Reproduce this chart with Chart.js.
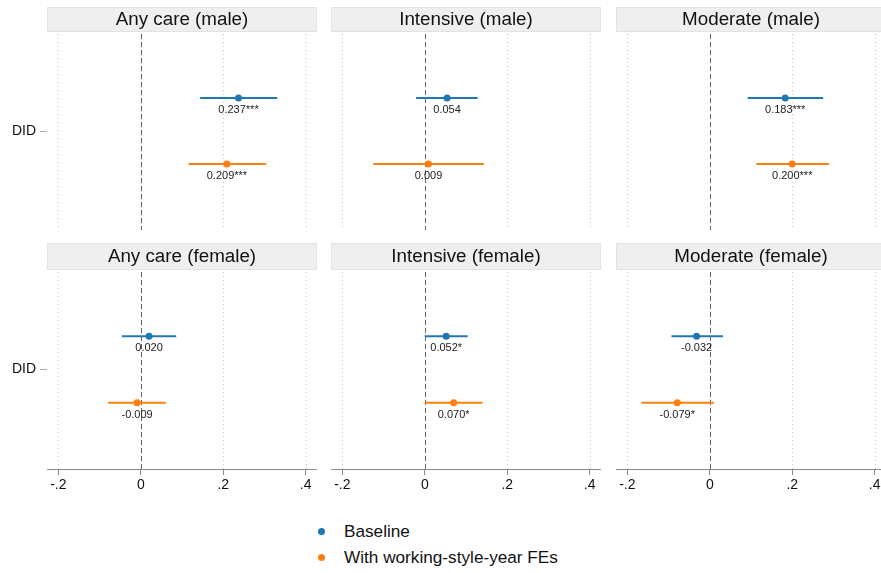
<!DOCTYPE html>
<html>
<head>
<meta charset="utf-8">
<script src="https://cdn.jsdelivr.net/npm/chart.js@4.4.1/dist/chart.umd.min.js"></script>
<style>
  html, body { margin: 0; padding: 0; background: #fff; overflow: hidden; width: 881px; height: 573px; }
  canvas { position: absolute; }
  .leg { position: absolute; left: 318px; font: 17.2px "Liberation Sans", Arial, sans-serif; color: #111; }
  .leg span { display: inline-block; width: 7px; height: 7px; border-radius: 50%; margin-right: 19px; vertical-align: middle; position: relative; top: -1px; }
</style>
</head>
<body>
<canvas id="p0" width="317" height="230" style="left:0px;top:0px"></canvas>
<canvas id="p1" width="270" height="230" style="left:331px;top:0px"></canvas>
<canvas id="p2" width="270" height="230" style="left:616px;top:0px"></canvas>
<canvas id="p3" width="317" height="260" style="left:0px;top:240px"></canvas>
<canvas id="p4" width="270" height="260" style="left:331px;top:240px"></canvas>
<canvas id="p5" width="270" height="260" style="left:616px;top:240px"></canvas>
<div class="leg" style="top:521px"><span style="background:#1f77b4"></span>Baseline</div>
<div class="leg" style="top:547px"><span style="background:#ff7f0e"></span>With working-style-year FEs</div>
<script>
// values
const panels = ['Any care (male)', 'Intensive (male)', 'Moderate (male)',
                'Any care (female)', 'Intensive (female)', 'Moderate (female)'];
const seriesNames = ['Baseline', 'With working-style-year FEs'];

const baseCoef = [0.237, 0.054, 0.183, 0.020, 0.052, -0.032];
const baseLo   = [0.144, -0.021, 0.092, -0.046, 0.000, -0.093];
const baseHi   = [0.331, 0.128, 0.275, 0.086, 0.104, 0.032];
const baseLbl  = ['0.237***', '0.054', '0.183***', '0.020', '0.052*', '-0.032'];

const feCoef = [0.209, 0.009, 0.200, -0.009, 0.070, -0.079];
const feLo   = [0.116, -0.125, 0.113, -0.079, 0.000, -0.166];
const feHi   = [0.304, 0.143, 0.289, 0.061, 0.140, 0.010];
const feLbl  = ['0.209***', '0.009', '0.200***', '-0.009', '0.070*', '-0.079*'];

const xTicks = [-0.2, 0, 0.2, 0.4];
const yLabel = 'DID';

const blue = '#1f77b4';
const orange = '#ff7f0e';
const FONT = '"Liberation Sans", Arial, sans-serif';

function fmtTick(v) {
    if (v == 0) return '0';
    return String(v).replace('0.', '.');
}

function titlePlugin(text, boxTop) {
    return {
        id: 'panelTitle',
        beforeDraw(chart) {
            const ctx = chart.ctx, a = chart.chartArea;
            ctx.save();
            ctx.fillStyle = '#efefef';
            ctx.fillRect(a.left, boxTop, a.right - a.left, a.top - boxTop);
            ctx.strokeStyle = '#dde4ea';
            ctx.lineWidth = 1;
            ctx.strokeRect(a.left + 0.5, boxTop + 0.5, a.right - a.left - 1, a.top - boxTop - 1);
            ctx.fillStyle = '#111';
            ctx.font = '18.8px ' + FONT;
            ctx.textAlign = 'center';
            ctx.textBaseline = 'middle';
            ctx.fillText(text, (a.left + a.right) / 2, (boxTop + a.top) / 2 + 0.5);
            ctx.restore();
        }
    };
}

const gridPlugin = {
    id: 'xGrid',
    beforeDatasetsDraw(chart) {
        const ctx = chart.ctx, a = chart.chartArea, xs = chart.scales.x;
        ctx.save();
        xTicks.forEach(v => {
            const px = Math.round(xs.getPixelForValue(v)) + 0.5;
            ctx.beginPath();
            if (v == 0) {
                ctx.strokeStyle = '#666';
                ctx.setLineDash([5, 3]);
            } else {
                ctx.strokeStyle = '#c4c4c4';
                ctx.setLineDash([1, 3]);
            }
            ctx.lineWidth = 1;
            ctx.moveTo(px, a.top + 2);
            ctx.lineTo(px, a.bottom);
            ctx.stroke();
        });
        ctx.restore();
    }
};

const labelPlugin = {
    id: 'coefLabels',
    afterDatasetsDraw(chart) {
        const ctx = chart.ctx;
        ctx.save();
        ctx.fillStyle = '#222';
        ctx.font = '11px ' + FONT;
        ctx.textAlign = 'center';
        ctx.textBaseline = 'middle';
        chart.data.datasets.forEach((ds, i) => {
            if (!ds.labels) return;
            const el = chart.getDatasetMeta(i).data[0];
            ctx.fillText(ds.labels[0], el.x, el.y + 12);
        });
        ctx.restore();
    }
};

function makePanel(i) {
    const col = i % 3, row = Math.floor(i / 3);
    const ctx = document.getElementById('p' + i).getContext('2d');
    return new Chart(ctx, {
        type: 'scatter',
        data: {
            datasets: [
                { data: [{x: baseLo[i], y: 1}, {x: baseHi[i], y: 1}], showLine: true,
                  borderColor: blue, borderWidth: 2, pointRadius: 0 },
                { data: [{x: feLo[i], y: 2}, {x: feHi[i], y: 2}], showLine: true,
                  borderColor: orange, borderWidth: 2, pointRadius: 0 },
                { label: seriesNames[0], data: [{x: baseCoef[i], y: 1}], labels: [baseLbl[i]],
                  pointRadius: 3.5, backgroundColor: blue, borderWidth: 0 },
                { label: seriesNames[1], data: [{x: feCoef[i], y: 2}], labels: [feLbl[i]],
                  pointRadius: 3.5, backgroundColor: orange, borderWidth: 0 }
            ]
        },
        options: {
            responsive: false,
            animation: false,
            events: [],
            layout: { autoPadding: false,
                      padding: { top: row == 0 ? 32 : 30, left: 0, right: 0, bottom: 0 } },
            plugins: { legend: { display: false }, tooltip: { enabled: false } },
            scales: {
                x: {
                    type: 'linear', min: -0.2275, max: 0.4275,
                    display: row == 1,
                    afterBuildTicks: s => { s.ticks = xTicks.map(v => ({value: v})); },
                    ticks: { callback: v => fmtTick(v), color: '#111',
                             font: { size: 14, family: FONT }, padding: 2, maxRotation: 0 },
                    grid: { drawOnChartArea: false, drawTicks: true, tickLength: 6,
                            tickColor: '#888', tickWidth: 1 },
                    border: { display: true, color: '#888', width: 1 },
                    afterFit: s => { s.height = row == 1 ? 31 : 0; }
                },
                y: {
                    type: 'linear', min: 0, max: 3, reverse: true,
                    display: col == 0,
                    afterBuildTicks: s => { s.ticks = [{value: 1.5}]; },
                    ticks: { callback: () => yLabel, color: '#111',
                             font: { size: 14, family: FONT }, padding: 4 },
                    grid: { drawOnChartArea: false, tickLength: 7, tickColor: '#aaa', tickWidth: 1 },
                    border: { display: false },
                    afterFit: s => {
                        s.width = col == 0 ? 47 : 0;
                        s.paddingTop = 0;
                        s.paddingBottom = 0;
                    }
                }
            }
        },
        plugins: [titlePlugin(panels[i], row == 0 ? 7 : 3), gridPlugin, labelPlugin]
    });
}

for (let i = 0; i < panels.length; i++) makePanel(i);
</script>
</body>
</html>
